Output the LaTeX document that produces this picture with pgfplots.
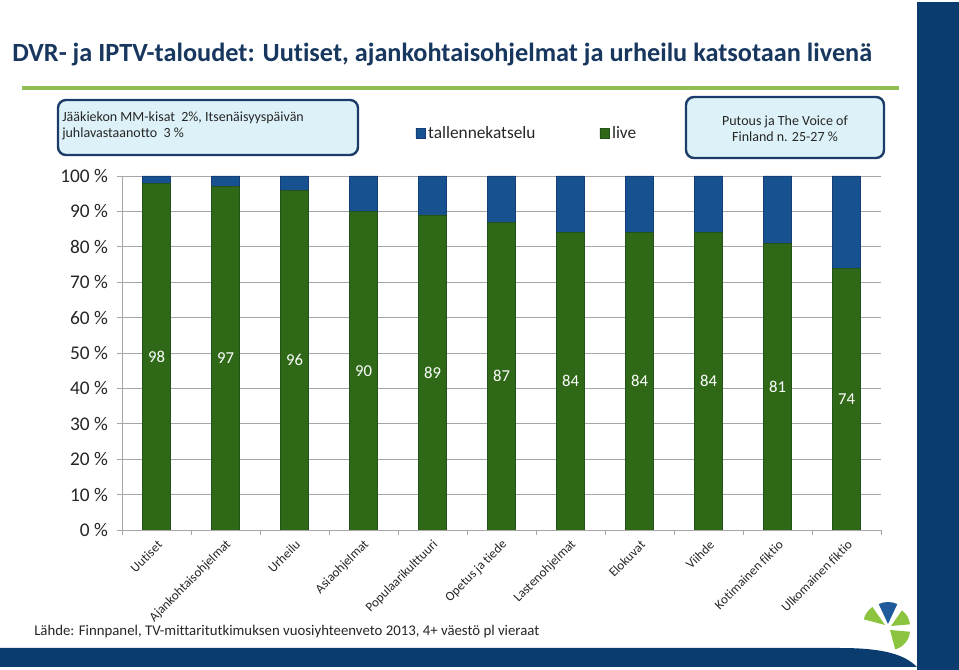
\documentclass[border=0pt]{standalone}
\usepackage{pgfplots}
\pgfplotsset{compat=1.18}
\usepackage{fontspec}
\setmainfont{Carlito}[Ligatures={NoCommon,NoRare,NoContextual}]
\definecolor{titleblue}{HTML}{17375E}
\definecolor{navy}{HTML}{0B3C70}
\definecolor{linegreen}{HTML}{92BD55}
\definecolor{barblue}{HTML}{2165B4}
\definecolor{barbluedark}{HTML}{17518F}
\definecolor{barblueedge}{HTML}{133F78}
\definecolor{bargreen}{HTML}{3F8321}
\definecolor{bargreendark}{HTML}{2F6917}
\definecolor{bargreenedge}{HTML}{25511A}
\definecolor{boxfill}{HTML}{DDF2F8}
\definecolor{boxedge}{HTML}{1B3B68}
\definecolor{txt}{HTML}{262626}
\definecolor{gridgray}{HTML}{A6A6A6}
\definecolor{logogreen}{HTML}{8CC43F}
\definecolor{logoblue}{HTML}{1F5A9A}
\begin{document}
\begin{tikzpicture}[x=0.75pt,y=0.75pt]
\fill[white] (0,0) rectangle (959,670);
\fill[navy] (917,0) rectangle (959,668);
\fill[navy] (0,22) -- (840,22) .. controls (885,22) and (905,15) .. (917,3) -- (0,3) -- cycle;
\draw[linegreen, line width=3pt] (22,582) -- (899,582);
\node[anchor=west, font=\bfseries\fontsize{19.7}{23}\selectfont, text=titleblue, inner sep=0] at (12,615) {DVR- ja IPTV-taloudet: Uutiset, ajankohtaisohjelmat ja urheilu katsotaan livenä};
\draw[boxedge, line width=1.8pt, fill=boxfill, rounded corners=6pt] (58,515) rectangle (358,570);
\node[anchor=west, align=left, font=\fontsize{10.5}{11.5}\selectfont, text=txt, inner sep=0] at (62,544) {Jääkiekon MM-kisat\ \ 2\%, Itsenäisyyspäivän\\juhlavastaanotto\ \ 3 \%};
\draw[boxedge, line width=1.8pt, fill=boxfill, rounded corners=6pt] (686,512) rectangle (884,573);
\node[align=center, font=\fontsize{10.5}{12}\selectfont, text=txt, inner sep=0] at (785,541) {Putous ja The Voice of\\Finland n. 25-27 \%};
\node[anchor=west, font=\fontsize{11.1}{13}\selectfont, text=txt, inner sep=0] at (34,38) {Lähde: Finnpanel, TV-mittaritutkimuksen vuosiyhteenveto 2013, 4+ väestö pl vieraat};
% logo
\fill[logogreen] (885,45) -- ++(125:22) arc (125:165:22) -- cycle;
\fill[logoblue] (888,46) -- ++(65:22) arc (65:115:22) -- cycle;
\fill[logogreen] (891,44) -- ++(5:19) arc (5:55:19) -- cycle;
\fill[logogreen] (890,40) -- ++(-75:20) arc (-75:-5:20) -- cycle;
\begin{axis}[
  at={(91.5pt,105pt)}, anchor=south west, scale only axis,
  width=569.25pt, height=265.5pt,
  ybar stacked, bar width=21pt,
  xmin=-0.5, xmax=10.5, ymin=0, ymax=100,
  axis x line*=bottom, axis y line*=left,
  axis line style={-, gridgray, line width=0.6pt},
  ymajorgrids, major grid style={gridgray, line width=0.6pt},
  ytick={0,10,...,100},
  yticklabel={\pgfmathprintnumber{\tick}~\%},
  /pgf/number format/assume math mode=true,
  yticklabel style={font=\fontsize{14.5}{16}\selectfont, text=txt, xshift=-3pt},
  tick align=outside, major tick length=4pt, minor tick length=4pt,
  tick style={gridgray, line width=0.6pt},
  xtick={0,...,10},
  xticklabels={Uutiset, Ajankohtaisohjelmat, Urheilu, Asiaohjelmat, Populaarikulttuuri, Opetus ja tiede, Lastenohjelmat, Elokuvat, Viihde, Kotimainen fiktio, Ulkomainen fiktio},
  major x tick style={draw=none},
  minor xtick={-0.5,0.5,...,10.5},
  xticklabel style={xshift=5pt, yshift=-3pt, rotate=45, anchor=east, font=\fontsize{9.8}{11}\selectfont, text=txt},
  reverse legend,
  legend columns=2,
  legend style={at={(0.534,1.121)}, anchor=center, draw=none, fill=none,
    font=\fontsize{13}{15}\selectfont, text=txt,
    /tikz/every even column/.append style={column sep=46pt}},
]
\addplot[left color=bargreendark, middle color=bargreen, right color=bargreendark, draw=bargreenedge,
  legend image code/.code={\draw[fill=bargreen, draw=bargreenedge] (0pt,-3.5pt) rectangle (7pt,3.5pt);},
  nodes near coords,
  every node near coord/.append style={text=white, font=\fontsize{12.5}{14}\selectfont, anchor=center}]
  coordinates {(0,98) (1,97) (2,96) (3,90) (4,89) (5,87) (6,84) (7,84) (8,84) (9,81) (10,74)};
\addlegendentry{live}
\addplot[left color=barbluedark, middle color=barblue, right color=barbluedark, draw=barblueedge,
  legend image code/.code={\draw[fill=barblue, draw=barblueedge] (0pt,-3.5pt) rectangle (7pt,3.5pt);}]
  coordinates {(0,2) (1,3) (2,4) (3,10) (4,11) (5,13) (6,16) (7,16) (8,16) (9,19) (10,26)};
\addlegendentry{tallennekatselu}
\end{axis}
\end{tikzpicture}
\end{document}
